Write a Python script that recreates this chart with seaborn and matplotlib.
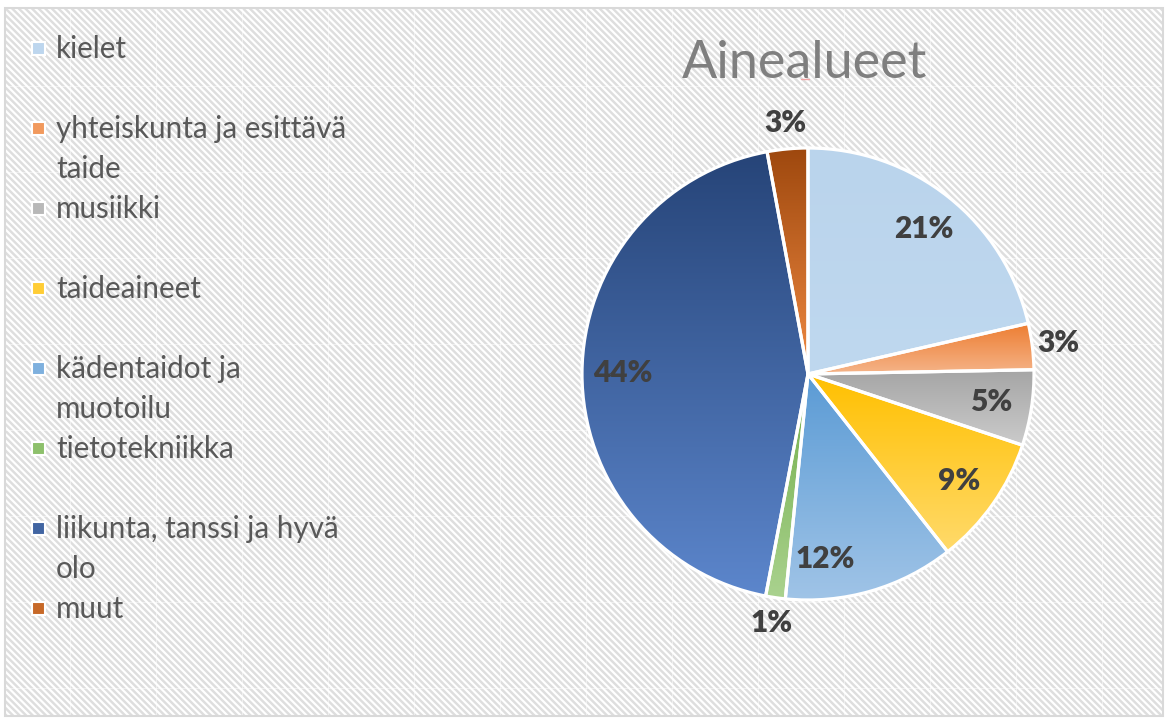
import numpy as np
import matplotlib
matplotlib.use("Agg")
import matplotlib.pyplot as plt
import seaborn as sns
from matplotlib.patches import Rectangle
from matplotlib.collections import LineCollection
from matplotlib.colors import to_rgb

# ---------------- data ----------------
title = "Ainealueet"
categories = ["kielet", "yhteiskunta ja esittävä\ntaide", "musiikki", "taideaineet",
              "kädentaidot ja\nmuotoilu", "tietotekniikka",
              "liikunta, tanssi ja hyvä\nolo", "muut"]
shares = [21.4, 3.3, 5.4, 9.3, 12.2, 1.4, 44.1, 2.9]
colors_top = ["#BAD4EC", "#ED7D31", "#A5A5A5", "#FFC000", "#5B9BD5", "#70AD47", "#264478", "#9E480E"]
colors_bottom = ["#BFD8EF", "#F5B489", "#CBCBCB", "#FFDA6B", "#A0C4E7", "#AAD28F", "#5C86CC", "#F08A42"]

# ---------------- style ----------------
sns.set_theme(style="white")
plt.rcParams["font.family"] = ["Lato", "DejaVu Sans"]

W, H = 1166, 719
fig = plt.figure(figsize=(W / 100, H / 100), dpi=100)
fig.patch.set_facecolor("white")
ax = fig.add_axes([0, 0, 1, 1])


def Y(y):
    return H - y


# background panel with diagonal stripes
panel = Rectangle((5, Y(716)), 1158, 708, facecolor="#DEDEDE", edgecolor="none", zorder=0)
ax.add_patch(panel)
cs = np.arange(0, W + H + 10, 6.6)
segs = [[(0, c), (c, 0)] for c in cs]
lc = LineCollection(segs, colors="white", linewidths=1.6, zorder=0.5)
lc.set_clip_path(panel)
ax.add_collection(lc)
for gx in np.arange(70, W, 86):
    ax.plot([gx, gx], [Y(716), Y(8)], color="white", lw=0.8, alpha=0.5, zorder=0.6)
for gy in np.arange(86, 716, 86):
    ax.plot([5, 1163], [Y(gy), Y(gy)], color="white", lw=0.8, alpha=0.5, zorder=0.6)
ax.add_patch(Rectangle((5, Y(716)), 1158, 708, facecolor="none", edgecolor="#D9D9D9",
                       lw=1.5, zorder=0.7))

# ---------------- pie ----------------
cx, cy, R = 808, Y(374), 226
wedges, _ = ax.pie(shares, colors=colors_top, startangle=90, counterclock=False,
                   radius=R, center=(cx, cy), frame=True,
                   wedgeprops=dict(edgecolor="white", linewidth=2.3))

for w, ct, cb in zip(wedges, colors_top, colors_bottom):
    ext = w.get_path().get_extents()
    grad = np.linspace(0, 1, 256)[:, None, None]
    img = (1 - grad) * np.array(to_rgb(ct)) + grad * np.array(to_rgb(cb))
    im = ax.imshow(img, extent=(ext.x0, ext.x1, ext.y0, ext.y1), origin="upper",
                   aspect="auto", zorder=1, interpolation="bilinear")
    im.set_clip_path(w)
    w.set_facecolor("none")
    w.set_zorder(2)

angle_shift = [0, 0, 0, 0, -11, 0, 0, 0]
for w, v, sh in zip(wedges, shares, angle_shift):
    mid = np.deg2rad((w.theta1 + w.theta2) / 2 + sh)
    rf = 0.82 if v >= 5 else 1.115
    ax.text(cx + rf * R * np.cos(mid), cy + rf * R * np.sin(mid), f"{round(v)}%",
            ha="center", va="center", fontsize=21.5, fontweight="heavy",
            color="#404040", zorder=3)

# ---------------- title ----------------
t = ax.text(805, Y(78), title, ha="center", va="baseline", fontsize=37.5,
            color="#7F7F7F", zorder=3)
fig.canvas.draw()
bb = t.get_window_extent().transformed(ax.transData.inverted())
ax.plot([bb.x0, bb.x1], [Y(79), Y(79)], color="#F2A5A5", lw=1.0, zorder=3)

# ---------------- legend ----------------
for i, (lab, ct, cb) in enumerate(zip(categories, colors_top, colors_bottom)):
    yc = 47.5 + 80 * i
    mix = tuple((np.array(to_rgb(ct)) + np.array(to_rgb(cb))) / 2)
    ax.add_patch(Rectangle((32, Y(yc + 7)), 13, 13, facecolor=mix, edgecolor="white",
                           lw=1.5, zorder=3))
    for j, line in enumerate(lab.split("\n")):
        ax.text(56, Y(58 + 80 * i + 40 * j), line, ha="left", va="baseline",
                fontsize=21.3, color="#595959", zorder=3)

ax.set_xlim(0, W)
ax.set_ylim(0, H)
ax.set_aspect("auto")
ax.axis("off")
fig.savefig("out.png", dpi=100)
